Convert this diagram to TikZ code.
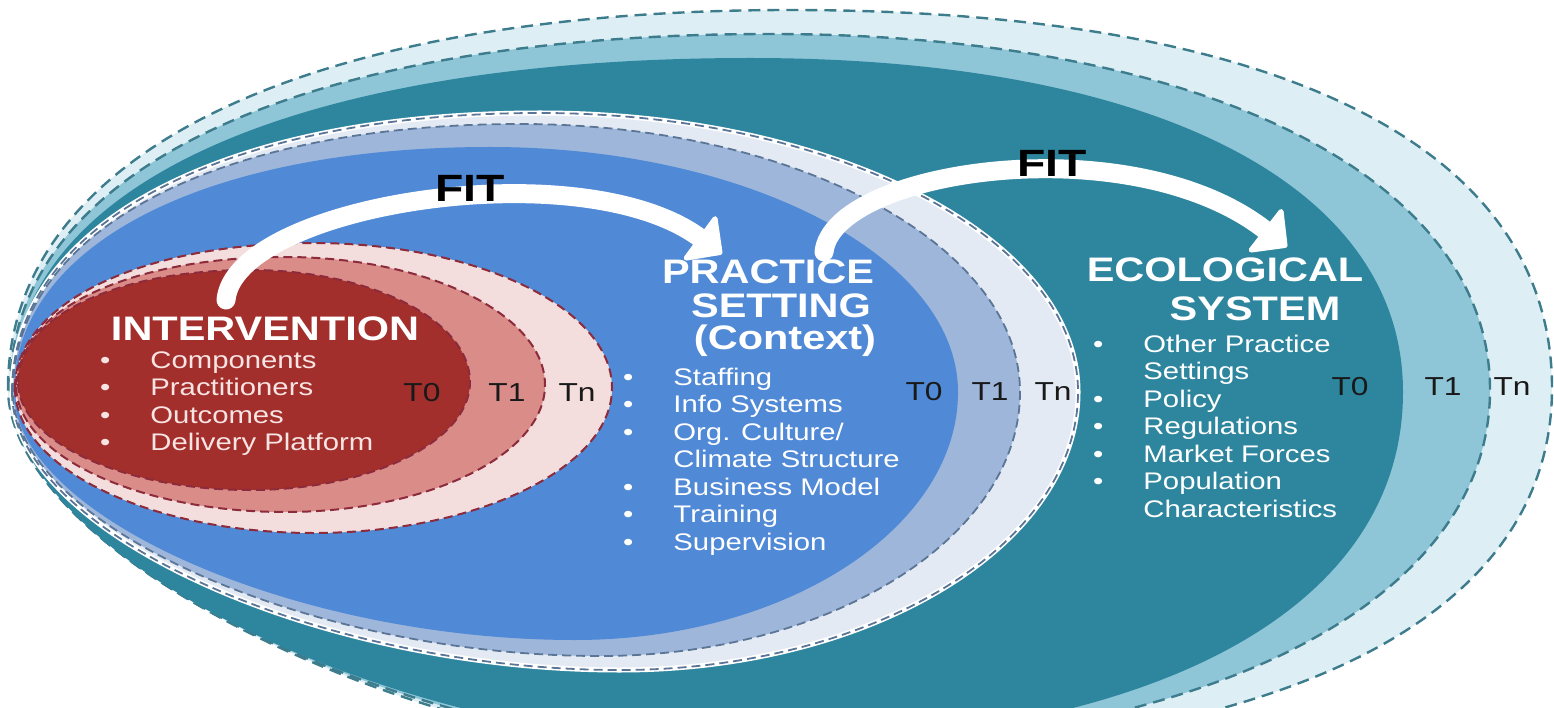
\documentclass[tikz,border=0pt]{standalone}
\usepackage{fontspec}
\setmainfont{Liberation Sans}[FakeStretch=1.22]
\usetikzlibrary{arrows.meta}

\definecolor{redzero}{HTML}{A32F2C}
\definecolor{redone}{HTML}{DA8C89}
\definecolor{redn}{HTML}{F4DEDD}
\definecolor{reddash}{HTML}{8C2B3B}
\definecolor{redtxt}{HTML}{F7E4E3}
\definecolor{bluezero}{HTML}{5089D6}
\definecolor{blueone}{HTML}{9DB6DA}
\definecolor{bluen}{HTML}{E4EAF4}
\definecolor{bluedash}{HTML}{5B7596}
\definecolor{tealzero}{HTML}{2E869E}
\definecolor{tealone}{HTML}{8EC6D8}
\definecolor{tealn}{HTML}{DDEFF4}
\definecolor{tealdash}{HTML}{3D7C8C}

% oval through left tip, top, right tip and bottom
% \kul, \kll round off the upper and lower left quarters, \kr the right half
\def\kul{.55}
\def\kll{.55}
\def\kr{.55}
\newcommand{\ovalpath}[7]{(#1,#2) .. controls (#1,{#2-\kul*(#2-#4)}) and ({#3-\kul*(#3-#1)},#4) .. (#3,#4)
	.. controls ({#3+\kr*(#5-#3)},#4) and (#5,{#2-\kr*(#2-#4)}) .. (#5,#2)
	.. controls (#5,{#2+\kr*(#7-#2)}) and ({#6+\kr*(#5-#6)},#7) .. (#6,#7)
	.. controls ({#6-\kll*(#6-#1)},#7) and (#1,{#2+\kll*(#7-#2)}) .. cycle}

\tikzset{
	tealedge/.style={draw=tealdash, line width=2.4pt, dash pattern=on 12pt off 7pt},
	blueedge/.style={draw=bluedash, line width=1.8pt, dash pattern=on 9pt off 5pt},
	rededge/.style={draw=reddash, line width=2pt, dash pattern=on 9pt off 5pt},
	heading/.style={text=white, font=\bfseries\fontsize{34}{34}\selectfont, inner sep=0pt, anchor=base},
	itemlist/.style={anchor=north west, inner sep=0pt, font=\fontsize{24}{27.5}\selectfont},
	timelabel/.style={text=black!90, font=\fontsize{26}{26}\selectfont, inner sep=0pt},
	fitlabel/.style={font=\bfseries\fontsize{38}{38}\selectfont, inner sep=0pt},
	fitarrow/.style={white, line width=19pt, line cap=round,
		-{Triangle[length=30pt, width=60pt, line width=5pt, round]}},
}

\begin{document}
\begin{tikzpicture}[x=1pt,y=-1pt]
	\useasboundingbox (0,0) rectangle (1554,708);
	\clip (0,0) rectangle (1554,708);

	% ecological system
	\def\kul{.62}
	\def\kr{.64}
	\def\kll{.45}
	\fill[tealn] \ovalpath{8}{388}{790}{10}{1552}{760}{760};
	\draw[tealedge] \ovalpath{8}{388}{790}{10}{1552}{760}{760};
	\def\kr{.6}
	\def\kll{.46}
	\fill[tealone] \ovalpath{10}{390}{770}{34}{1490}{750}{752};
	\draw[tealedge] \ovalpath{10}{390}{770}{34}{1490}{750}{752};
	\def\kr{.62}
	\def\kll{.47}
	\fill[tealzero] \ovalpath{12}{392}{750}{58}{1403}{740}{745};

	% practice setting
	\def\kul{.6}
	\def\kll{.5}
	\def\kr{.55}
	\fill[bluen] \ovalpath{12}{392}{540}{113}{1078}{620}{670};
	\draw[white, line width=5pt] \ovalpath{12}{392}{540}{113}{1078}{620}{670};
	\draw[blueedge] \ovalpath{12}{392}{540}{113}{1078}{620}{670};
	\fill[blueone] \ovalpath{13}{392}{520}{124}{1020}{600}{656};
	\draw[blueedge] \ovalpath{13}{392}{520}{124}{1020}{600}{656};
	\fill[bluezero] \ovalpath{14}{392}{490}{147}{958}{575}{640};

	% intervention
	\def\kul{.58}
	\def\kll{.55}
	\fill[redn] \ovalpath{15}{388}{313}{243}{612}{313}{533};
	\draw[rededge] \ovalpath{15}{388}{313}{243}{612}{313}{533};
	\fill[redone] \ovalpath{16}{385}{285}{257}{545}{285}{512};
	\draw[rededge] \ovalpath{16}{385}{285}{257}{545}{285}{512};
	\fill[redzero] \ovalpath{18}{382}{250}{270}{470}{250}{490};
	\draw[rededge] \ovalpath{18}{382}{250}{270}{470}{250}{490};

	% fit arrows
	\coordinate (a1) at (226,300);
	\coordinate (b1) at (722,254);
	\coordinate (a2) at (824,252);
	\coordinate (b2) at (1287,247);
	\draw[fitarrow] (a1) .. controls (235,205) and (580,150) .. (b1);
	\draw[fitarrow] (a2) .. controls (833,170) and (1130,125) .. (b2);
	\node[fitlabel] (fit1) at (470,188) {FIT};
	\node[fitlabel] (fit2) at (1052,163) {FIT};

	% headings
	\node[heading] (int) at (265,340) {INTERVENTION};
	\node[heading] (prac) at (768,284) {PRACTICE};
	\node[heading] (sett) at (781,317) {SETTING};
	\node[heading] (cont) at (785,349) {(Context)};
	\node[heading] (eco) at (1225,282) {ECOLOGICAL};
	\node[heading] (sys) at (1255,320) {SYSTEM};

	% lists
	\node[itemlist, text=redtxt] (intlist) at (100,349) {\begin{tabular}{@{}l@{\hspace{40pt}}l@{}}
		\textbullet & Components\\
		\textbullet & Practitioners\\
		\textbullet & Outcomes\\
		\textbullet & Delivery Platform
	\end{tabular}};
	\node[itemlist, text=white] (praclist) at (623,366) {\begin{tabular}{@{}l@{\hspace{40pt}}l@{}}
		\textbullet & Staffing\\
		\textbullet & Info Systems\\
		\textbullet & Org. Culture/\\
		 & Climate Structure\\
		\textbullet & Business Model\\
		\textbullet & Training\\
		\textbullet & Supervision
	\end{tabular}};
	\node[itemlist, text=white] (ecolist) at (1093,333) {\begin{tabular}{@{}l@{\hspace{40pt}}l@{}}
		\textbullet & Other Practice\\
		 & Settings\\
		\textbullet & Policy\\
		\textbullet & Regulations\\
		\textbullet & Market Forces\\
		\textbullet & Population\\
		 & Characteristics
	\end{tabular}};

	% time points
	\foreach \name/\x/\y/\value in {r0/422/393/T0, r1/507/393/T1, rn/577/393/Tn,
		p0/924/392/T0, p1/990/392/T1, pn/1053/392/Tn,
		e0/1350/387/T0, e1/1443/387/T1, en/1512/387/Tn}
	{
		\node[timelabel] (\name) at (\x,\y) {\value};
	}
\end{tikzpicture}
\end{document}
